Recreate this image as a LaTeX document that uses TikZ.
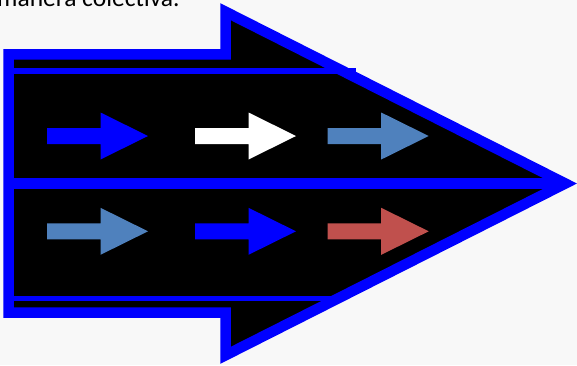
\documentclass[tikz,border=0pt]{standalone}
\usepackage{fontspec}
\setmainfont{Carlito}
\definecolor{fondo}{HTML}{F8F8F8}
\definecolor{azulacero}{HTML}{4F81BD}
\definecolor{rojo}{HTML}{C0504D}
\definecolor{azul}{HTML}{0000FF}
% block arrow: colour, left x, middle y
\newcommand{\flecha}[3]{\fill[#1] (#2,#3-8) -- ++(53.5,0) -- ++(0,-15.5) -- ++(47.5,23.5) -- ++(-47.5,23.5) -- ++(0,-15.5) -- ++(-53.5,0) -- cycle;}
\begin{document}
\begin{tikzpicture}[x=1pt,y=-1pt]
    \useasboundingbox[fill=fondo] (0,0) rectangle (577,365);
    \node[anchor=base west,inner sep=0pt,font=\fontsize{25.5}{30}\selectfont] (texto) at (-3,6.3) {manera colectiva.};
    \fill[black] (8.5,54.3) -- (225.5,54.3) -- (225.5,11.7) -- (565.3,183.5) -- (225.5,355.3) -- (225.5,312.7) -- (8.5,312.7) -- cycle;
    \draw[azul,line width=6pt] (10,71) -- (356,71);
    \draw[azul,line width=5pt] (10,298.2) -- (331,298.2);
    \draw[azul,line width=10.8pt] (10,183.5) -- (565,183.5);
    \draw[azul,line width=10.5pt,miter limit=10] (8.5,54.3) -- (225.5,54.3) -- (225.5,11.7) -- (565.3,183.5) -- (225.5,355.3) -- (225.5,312.7) -- (8.5,312.7) -- cycle;
    \flecha{azul}{47}{136}
    \flecha{white}{195}{136}
    \flecha{azulacero}{327.7}{136}
    \flecha{azulacero}{47}{231.3}
    \flecha{azul}{195}{231.3}
    \flecha{rojo}{327.7}{231.3}
  \end{tikzpicture}
\end{document}
